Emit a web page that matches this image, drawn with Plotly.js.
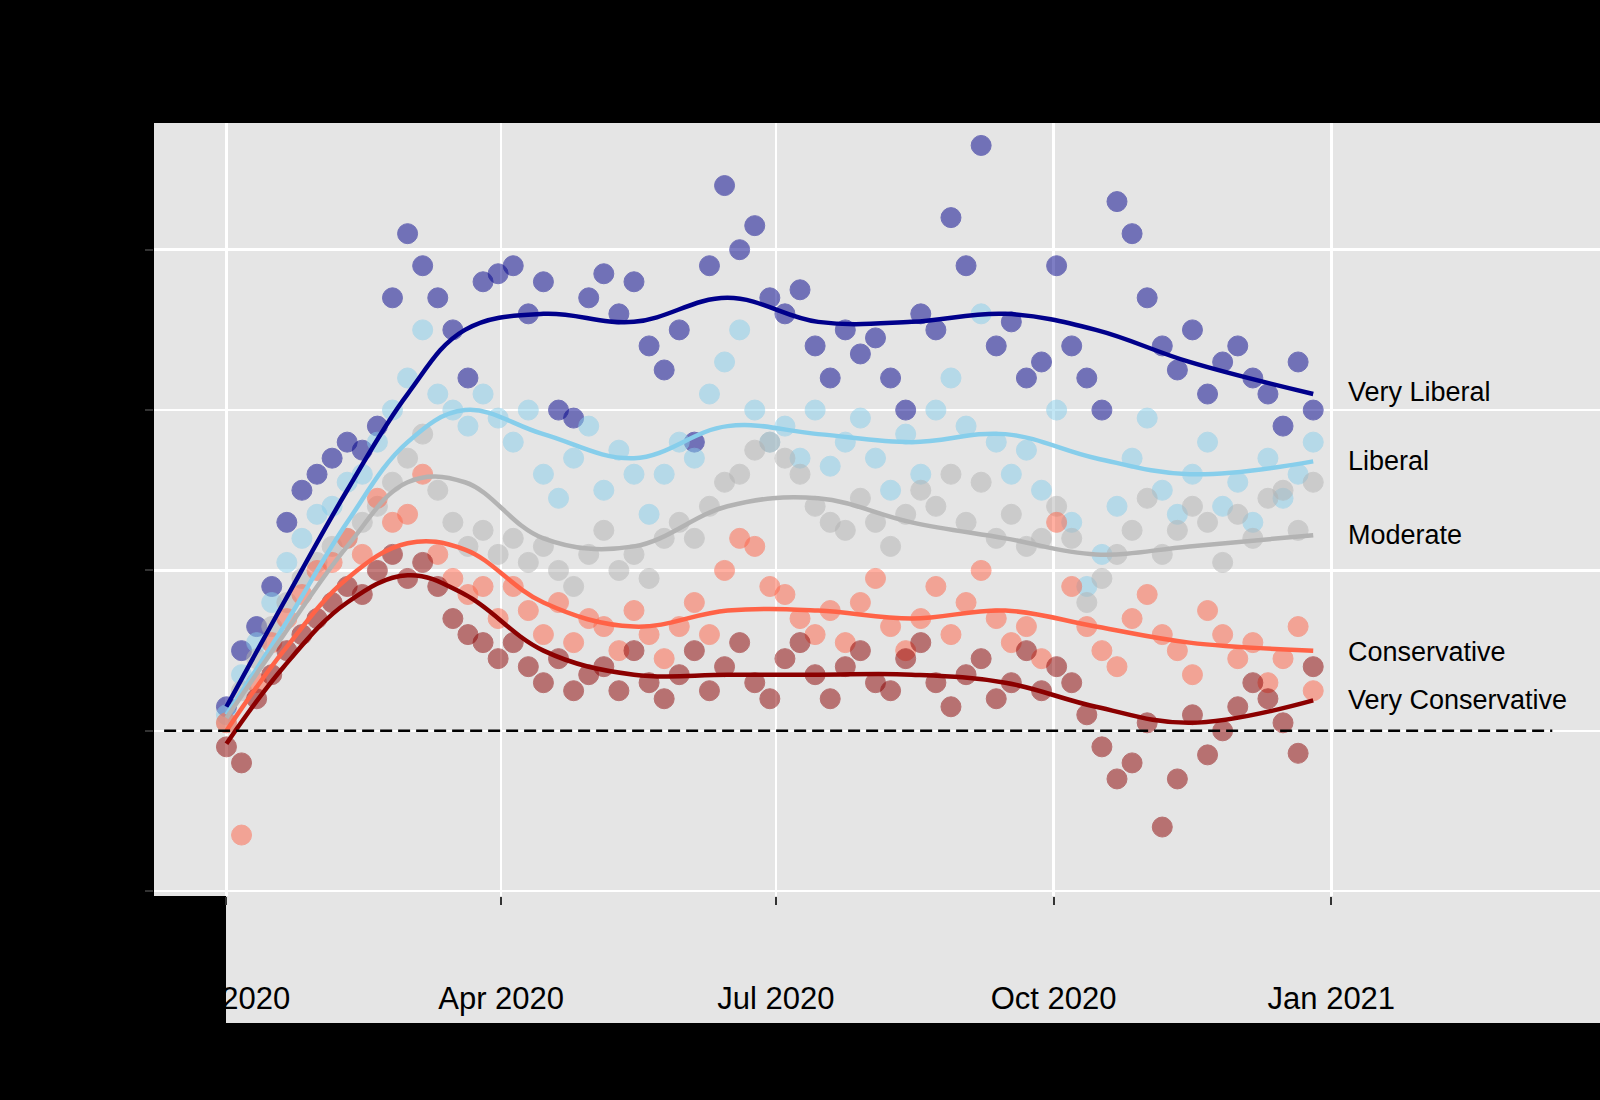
<!DOCTYPE html>
<html>
<head>
<meta charset="utf-8">
<script src="https://cdn.plot.ly/plotly-3.0.1.min.js"></script>
<style>
html,body{margin:0;padding:0;background:#000;}
#chart{width:1600px;height:1100px;}
</style>
</head>
<body>
<div id="chart"></div>
<script>
const dates = [
 '2020-01-01','2020-01-06','2020-01-11','2020-01-16','2020-01-21','2020-01-26','2020-01-31',
 '2020-02-05','2020-02-10','2020-02-15','2020-02-20','2020-02-25','2020-03-01','2020-03-06','2020-03-11','2020-03-16','2020-03-21','2020-03-26','2020-03-31',
 '2020-04-05','2020-04-10','2020-04-15','2020-04-20','2020-04-25','2020-04-30','2020-05-05','2020-05-10','2020-05-15','2020-05-20','2020-05-25','2020-05-30','2020-06-04','2020-06-09','2020-06-14','2020-06-19','2020-06-24','2020-06-29',
 '2020-07-04','2020-07-09','2020-07-14','2020-07-19','2020-07-24','2020-07-29','2020-08-03','2020-08-08','2020-08-13','2020-08-18','2020-08-23','2020-08-28','2020-09-02','2020-09-07','2020-09-12','2020-09-17','2020-09-22','2020-09-27',
 '2020-10-02','2020-10-07','2020-10-12','2020-10-17','2020-10-22','2020-10-27','2020-11-01','2020-11-06','2020-11-11','2020-11-16','2020-11-21','2020-11-26','2020-12-01','2020-12-06','2020-12-11','2020-12-16','2020-12-21','2020-12-26'
];

const groups = ['Very Liberal','Liberal','Moderate','Conservative','Very Conservative'];
const colors = ['#00008B','#87CEEB','#B3B3B3','#FF6347','#8B0000'];

const veryLiberal = [1.5,5,6.5,9,13,15,16,
 17,18,17.5,19,27,31,29,27,25,22,28,28.5,
 29,26,28,20,19.5,27,28.5,26,28,24,22.5,25,18,29,34,30,31.5,27,
 26,27.5,24,22,25,23.5,24.5,22,20,26,25,32,29,36.5,24,25.5,22,23,
 29,24,22,20,33,31,27,24,22.5,25,21,23,24,22,21,19,23,20];

const liberal = [1,3.5,5.5,8,10.5,12,13.5,
 14,15.5,16,18,20,22,25,21,20,19,21,19.5,
 18,20,16,14.5,17,19,15,17.5,16,13.5,16,18,17,21,23,25,20,18,
 19,17,20,16.5,18,19.5,17,15,18.5,16,20,22,19,26,18,16,17.5,15,
 20,13,9,11,14,17,19.5,15,13.5,16,18,14,15.5,13,17,14.5,16,18];

const moderate = [0.5,2.5,4.5,6.5,8,9.5,10.5,
 11.5,12,13,14,15.5,17,18.5,15,13,11.5,12.5,11,
 12,10.5,11.5,10,9,11,12.5,10,11,9.5,12,13,12,14,15.5,16,17.5,18,
 17,16,14,13,12.5,14.5,13,11.5,13.5,15,14,16,13,15.5,12,13.5,11.5,12,
 14,12,8,9.5,11,12.5,14.5,11,12.5,14,13,10.5,13.5,12,14.5,15,12.5,15.5];

const conservative = [0.5,-6.5,3,5.5,7,8.5,10,
 10.5,12,11,14.5,13,13.5,16,11,9.5,8.5,9,7,
 9,7.5,6,8,5.5,7,6.5,5,7.5,6,4.5,6.5,8,6,10,12,11.5,9,
 8.5,7,6,7.5,5.5,8,9.5,6.5,5,7,9,6,8,10,7,5.5,6.5,4.5,
 13,9,6.5,5,4,7,8.5,6,5,3.5,7.5,6,4.5,5.5,3,4.5,6.5,2.5];

const veryConservative = [-1,-2,2,3.5,5,6,7,
 8,9,8.5,10,11,9.5,10.5,9,7,6,5.5,4.5,
 5.5,4,3,4.5,2.5,3.5,4,2.5,5,3,2,3.5,5,2.5,4,5.5,3,2,
 4.5,5.5,3.5,2,4,5,3,2.5,4.5,5.5,3,1.5,3.5,4.5,2,3,5,2.5,
 4,3,1,-1,-3,-2,0.5,-6,-3,1,-1.5,0,1.5,3,2,0.5,-1.4,4];

// smoothed trend lines
const smoothDates = ['2020-01-01','2020-01-20','2020-02-10','2020-03-01','2020-03-20','2020-04-15','2020-05-15','2020-06-15','2020-07-15','2020-08-15','2020-09-15','2020-10-15','2020-11-15','2020-12-26'];
const veryLiberalSmooth = [1.5,8,15,21,25,26,25.5,27,25.5,25.5,26,25,23,21];
const liberalSmooth = [1,6.5,13,18,20,18.5,17,19,18.5,18,18.5,17,16,16.8];
const moderateSmooth = [0.8,6,11.5,15.5,15.5,12,11.5,14,14.5,13,12,11,11.5,12.2];
const conservativeSmooth = [0,5,9.5,11.7,11.3,8,6.5,7.5,7.5,7,7.5,6.5,5.5,5];
const veryConservativeSmooth = [-0.8,4,8,9.7,8.5,5,3.5,3.5,3.5,3.5,3,1.5,0.5,1.9];

const labelDate = '2021-01-06';
const labelY = [21.1,16.8,12.2,4.9,1.9];

const pointSeries = [veryLiberal, liberal, moderate, conservative, veryConservative];
const smoothSeries = [veryLiberalSmooth, liberalSmooth, moderateSmooth, conservativeSmooth, veryConservativeSmooth];

const traces = [];
pointSeries.forEach((ys, i) => {
  traces.push({
    type: 'scatter', mode: 'markers', name: groups[i],
    x: dates, y: ys,
    marker: {size: 20, color: colors[i], opacity: 0.5, line: {color: colors[i], width: 1}},
    hoverinfo: 'x+y+name'
  });
});
smoothSeries.forEach((ys, i) => {
  traces.push({
    type: 'scatter', mode: 'lines', name: groups[i] + ' trend',
    x: smoothDates, y: ys,
    line: {color: colors[i], width: 4.5, shape: 'spline', smoothing: 1.1}
  });
});

const font = 'Liberation Sans, Arial, Helvetica, sans-serif';

const layout = {
  width: 1600, height: 1100,
  paper_bgcolor: '#000000',
  plot_bgcolor: '#E5E5E5',
  margin: {l: 154, r: 0, t: 123, b: 204},
  showlegend: false,
  font: {family: font, color: '#000000'},
  xaxis: {
    type: 'date',
    range: ['2019-12-08', '2021-03-31'],
    tick0: '2020-01-01', dtick: 'M3', tickformat: '%b %Y',
    showgrid: true, gridcolor: '#FFFFFF', gridwidth: 2.5,
    zeroline: false, showline: false,
    ticks: 'outside', ticklen: 8, tickwidth: 2, tickcolor: '#333333',
    tickfont: {family: font, size: 31, color: '#000000'},
    ticklabelstandoff: 67
  },
  yaxis: {
    range: [-10.3, 37.9],
    tick0: 0, dtick: 10,
    showgrid: true, gridcolor: '#FFFFFF', gridwidth: 2.5,
    zeroline: false, showline: false,
    ticks: 'outside', ticklen: 8, tickwidth: 2, tickcolor: '#333333',
    tickfont: {family: font, size: 30, color: '#000000'}
  },
  shapes: [
    {type: 'rect', xref: 'paper', yref: 'paper', x0: 0.0498, x1: 1, y0: -0.1643, y1: 0,
     fillcolor: '#E5E5E5', line: {width: 0}, layer: 'below'},
    {type: 'line', xref: 'paper', yref: 'y', x0: 0.007, x1: 0.967, y0: 0, y1: 0,
     line: {color: '#000000', width: 2.5, dash: '12px,6px'}, layer: 'above'}
  ],
  annotations: groups.map((g, i) => ({
    x: labelDate, y: labelY[i], xref: 'x', yref: 'y',
    text: g, showarrow: false, xanchor: 'left', yanchor: 'middle',
    font: {family: font, size: 27, color: '#000000'}
  }))
};

Plotly.newPlot('chart', traces, layout, {displayModeBar: false, staticPlot: true});
</script>
</body>
</html>
